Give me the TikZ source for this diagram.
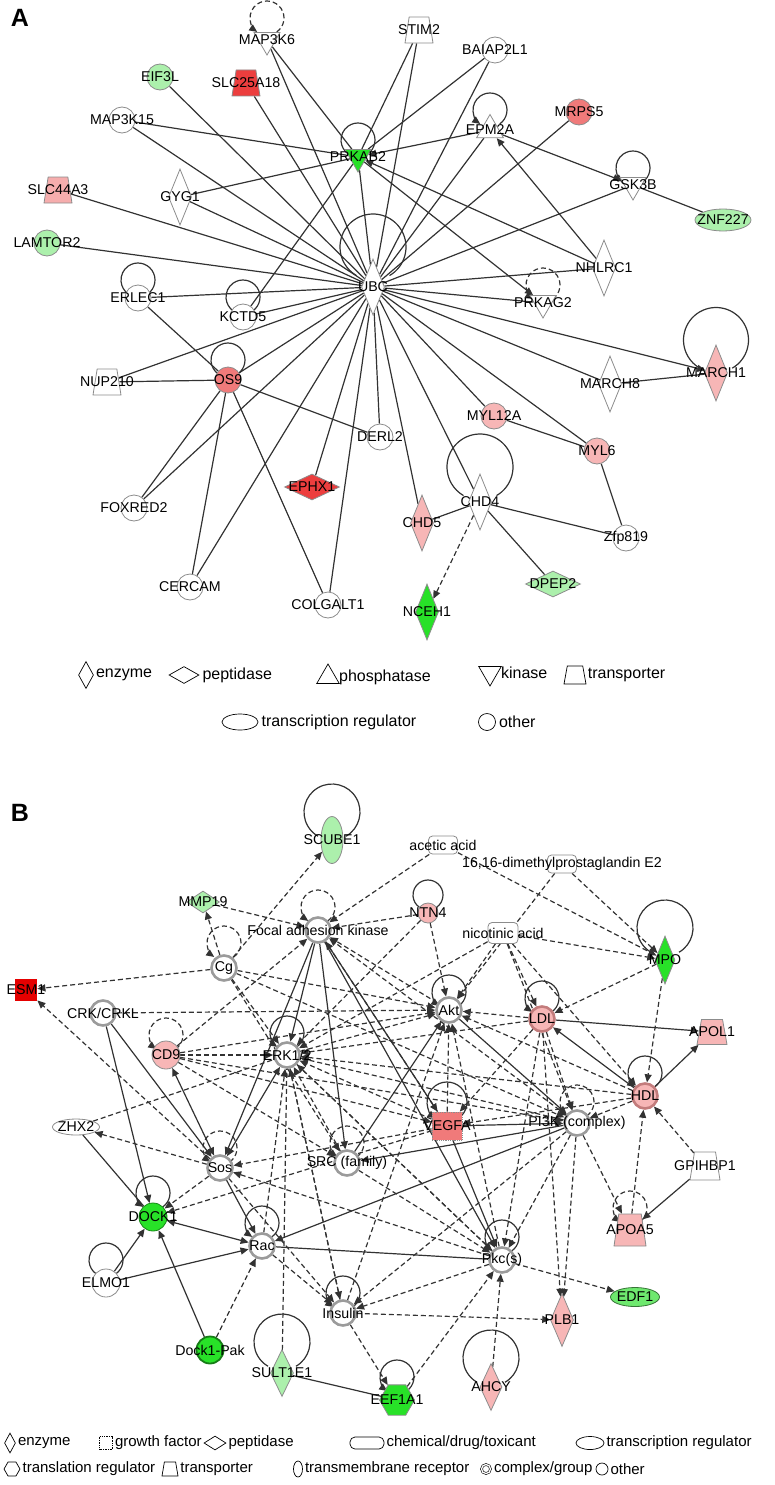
\documentclass[tikz,border=0pt]{standalone}
\usepackage{fontspec}
\setmainfont{Liberation Sans}
\usetikzlibrary{shapes.geometric,arrows.meta,positioning,backgrounds}
\definecolor{nodegray}{RGB}{140,140,140}
\definecolor{edgegray}{RGB}{50,50,50}
\definecolor{cplxgray}{RGB}{155,155,155}
\definecolor{upred}{RGB}{236,62,62}
\definecolor{upmid}{RGB}{240,122,122}
\definecolor{uppink}{RGB}{247,182,182}
\definecolor{dngreen}{RGB}{40,225,40}
\definecolor{dnmid}{RGB}{110,232,110}
\definecolor{dnlight}{RGB}{172,240,172}
\newcommand{\lblfont}{\fontsize{14.2}{15}\selectfont}
\newcommand{\legfont}{\fontsize{16}{17}\selectfont}
\newcommand{\legbfont}{\fontsize{15}{16}\selectfont}
\newcommand{\ttlfont}{\fontsize{25}{25}\selectfont\bfseries}
\begin{document}
\begin{tikzpicture}[x=1pt, y=1pt,
  every label/.style={font=\lblfont, inner sep=0pt},
  gene/.style={draw=nodegray, fill=white, line width=0.8pt, inner sep=0pt},
  other/.style={gene, circle, minimum size=26pt},
  enzyme/.style={gene, diamond, minimum width=23pt, minimum height=56pt},
  peptidase/.style={gene, diamond, minimum width=55pt, minimum height=26pt},
  phosphatase/.style={gene, regular polygon, regular polygon sides=3, minimum size=31pt},
  kinase/.style={gene, regular polygon, regular polygon sides=3, shape border rotate=180, minimum size=30pt},
  transporter/.style={gene, trapezium, inner sep=1pt, trapezium left angle=78, trapezium right angle=78, trapezium stretches=true, minimum width=28pt, minimum height=26pt},
  transreg/.style={gene, ellipse, minimum width=56pt, minimum height=22pt},
  transl/.style={gene, regular polygon, regular polygon sides=6, minimum size=35pt},
  tmrec/.style={gene, ellipse, minimum width=22pt, minimum height=47pt},
  chem/.style={gene, rectangle, rounded corners=4pt, minimum width=29pt, minimum height=18pt},
  growth/.style={gene, rectangle, densely dotted, minimum width=28pt, minimum height=28pt},
  cplx/.style={gene, circle, draw=cplxgray, line width=2.6pt, minimum size=25pt},
  lgs/.style={draw=black, line width=0.7pt},
  lgtext/.style={font=\legfont, inner sep=1pt},
  lgbtext/.style={font=\legbfont, inner sep=1pt},
  sl/.style={draw=edgegray, line width=1.2pt},
  sa/.style={sl, -{Triangle[length=8pt,width=7pt]}},
  sab/.style={sl, {Triangle[length=8pt,width=7pt]}-{Triangle[length=8pt,width=7pt]}},
  dl/.style={sl, dash pattern=on 5pt off 3pt},
  da/.style={dl, -{Triangle[length=8pt,width=7pt]}},
  lp/.style={sl},
  lpa/.style={sa},
  lpd/.style={dl},
  lpda/.style={da}]
\useasboundingbox (0,0) rectangle (775,-1485);

% ---------------- panel A ----------------
\node[font=\ttlfont] (ttla) at (20,-18) {A};

\node[kinase, label=center:MAP3K6] (map3k6) at (267,-40) {};
\node[transporter, label=center:STIM2] (stim2) at (419,-30) {};
\node[other, label=center:BAIAP2L1] (baiap2l1) at (495,-50) {};
\node[other, fill=dnlight, label=center:EIF3L] (eif3l) at (160,-77) {};
\node[transporter, fill=upred, label=center:SLC25A18] (slc25a18) at (246,-83) {};
\node[other, label=center:MAP3K15] (map3k15) at (122,-120) {};
\node[other, fill=upmid, label=center:MRPS5] (mrps5) at (579,-112) {};
\node[phosphatase, label=center:EPM2A] (epm2a) at (490,-130) {};
\node[kinase, fill=dngreen, label=center:PRKAB2] (prkab2) at (358,-157) {};
\node[kinase, label=center:GSK3B] (gsk3b) at (633,-185) {};
\node[transporter, fill=uppink!85!upmid, label=center:SLC44A3] (slc44a3) at (58,-190) {};
\node[enzyme, label=center:GYG1] (gyg1) at (180,-197) {};
\node[transreg, fill=dnlight, label=center:ZNF227] (znf227) at (723,-220) {};
\node[other, fill=dnlight, label=center:LAMTOR2] (lamtor2) at (47,-243) {};
\node[enzyme, label=center:UBC] (ubc) at (373,-287) {};
\node[enzyme, label=center:NHLRC1] (nhlrc1) at (604,-268) {};
\node[other, label=center:ERLEC1] (erlec1) at (138,-298) {};
\node[other, label=center:KCTD5] (kctd5) at (243,-317) {};
\node[kinase, label=center:PRKAG2] (prkag2) at (543,-303) {};
\node[transporter, label=center:NUP210] (nup210) at (107,-382) {};
\node[other, fill=upmid, label=center:OS9] (os9) at (228,-380) {};
\node[enzyme, label=center:MARCH8] (march8) at (610,-384) {};
\node[enzyme, fill=uppink, label=center:MARCH1] (march1) at (716,-373) {};
\node[other, fill=uppink, label=center:MYL12A] (myl12a) at (494,-416) {};
\node[other, label=center:DERL2] (derl2) at (380,-437) {};
\node[other, fill=uppink, label=center:MYL6] (myl6) at (597,-451) {};
\node[peptidase, fill=upred, label=center:EPHX1] (ephx1) at (312,-487) {};
\node[enzyme, label=center:CHD4] (chd4) at (480,-502) {};
\node[enzyme, fill=uppink, label=center:CHD5] (chd5) at (422,-523) {};
\node[other, label=center:Zfp819] (zfp819) at (626,-538) {};
\node[other, label=center:FOXRED2] (foxred2) at (134,-508) {};
\node[other, label=center:CERCAM] (cercam) at (190,-587) {};
\node[peptidase, fill=dnlight, label=center:DPEP2] (dpep2) at (553,-584) {};
\node[other, label=center:COLGALT1] (colgalt1) at (328,-605) {};
\node[enzyme, fill=dngreen, label=center:NCEH1] (nceh1) at (427,-612) {};

\begin{scope}[on background layer]
\draw[lpda] (map3k6) ++(9.75,8.07) arc[start angle=-55, end angle=235, radius=17];
\draw[lp] (prkab2) ++(9.75,3.07) arc[start angle=-55, end angle=235, radius=17];
\draw[lpa] (epm2a) ++(9.75,6.07) arc[start angle=-55, end angle=235, radius=17];
\draw[lpa] (gsk3b) ++(9.75,3.07) arc[start angle=-55, end angle=235, radius=17];
\draw[lpda] (prkag2) ++(9.75,4.07) arc[start angle=-55, end angle=235, radius=17];
\draw[lp] (erlec1) ++(9.75,4.07) arc[start angle=-55, end angle=235, radius=17];
\draw[lp] (kctd5) ++(9.75,6.07) arc[start angle=-55, end angle=235, radius=17];
\draw[lp] (os9) ++(9.75,6.07) arc[start angle=-55, end angle=235, radius=17];
\draw[lp] (ubc) ++(16.5,11.42) arc[start angle=-60, end angle=240, radius=33];
\draw[lp] (march1) ++(16.25,4.85) arc[start angle=-60, end angle=240, radius=32.5];
\draw[lp] (chd4) ++(16.5,6.42) arc[start angle=-60, end angle=240, radius=33];

\draw[sl] (map3k6) -- (ubc);
\draw[sl] (map3k6) -- (prkab2);
\draw[sl] (eif3l) -- (ubc);
\draw[sl] (slc25a18) -- (ubc);
\draw[sl] (map3k15) -- (prkab2);
\draw[sl] (map3k15) -- (ubc);
\draw[sl] (gyg1) -- (prkab2);
\draw[sl] (gyg1) -- (ubc);
\draw[sl] (slc44a3) -- (ubc);
\draw[sl] (lamtor2) -- (ubc);
\draw[sl] (erlec1) -- (ubc);
\draw[sl] (erlec1) -- (os9);
\draw[sl] (kctd5) -- (prkab2);
\draw[sl] (kctd5) -- (ubc);
\draw[sl] (prkab2) -- (ubc);
\draw[sl] (stim2) -- (prkab2);
\draw[sl] (stim2) -- (ubc);
\draw[sl] (baiap2l1) -- (prkab2);
\draw[sl] (baiap2l1) -- (ubc);
\draw[sa] (epm2a) -- (prkab2);
\draw[sl] (epm2a) -- (ubc);
\draw[sa] (epm2a) -- (gsk3b);
\draw[sa] (nhlrc1) -- (epm2a);
\draw[sa] (nhlrc1) -- (prkab2);
\draw[sa] (prkab2) -- (prkag2);
\draw[sl] (mrps5) -- (ubc);
\draw[sl] (gsk3b) -- (ubc);
\draw[sl] (gsk3b) -- (znf227);
\draw[sl] (nhlrc1) -- (ubc);
\draw[sl] (prkag2) -- (ubc);
\draw[sa] (ubc) -- (march1);
\draw[sl] (ubc) -- (march8);
\draw[sl] (march8) -- (march1);
\draw[sl] (ubc) -- (myl12a);
\draw[sl] (ubc) -- (myl6);
\draw[sl] (ubc) -- (chd4);
\draw[sl] (ubc) -- (chd5);
\draw[sl] (ubc) -- (derl2);
\draw[sl] (ubc) -- (colgalt1);
\draw[sl] (ubc) -- (ephx1);
\draw[sl] (ubc) -- (cercam);
\draw[sl] (ubc) -- (foxred2);
\draw[sl] (ubc) -- (nup210);
\draw[sl] (ubc) -- (os9);
\draw[sl] (os9) -- (nup210);
\draw[sl] (os9) -- (derl2);
\draw[sl] (os9) -- (foxred2);
\draw[sl] (os9) -- (cercam);
\draw[sl] (os9) -- (colgalt1);
\draw[sl] (myl12a) -- (myl6);
\draw[sl] (myl6) -- (zfp819);
\draw[sl] (chd4) -- (chd5);
\draw[sl] (chd4) -- (zfp819);
\draw[sl] (chd4) -- (dpep2);
\draw[da] (chd4) -- (nceh1);
\end{scope}

% legend A
\node[enzyme, lgs, minimum width=15pt, minimum height=27pt] (lgaenz) at (86,-675) {};
\node[lgtext, right=1pt of lgaenz] (lgaenzt) {enzyme};
\node[peptidase, lgs, minimum width=30pt, minimum height=17pt] (lgapep) at (184,-675) {};
\node[lgtext, right=2pt of lgapep] (lgapept) {peptidase};
\node[phosphatase, lgs, minimum size=26pt] (lgapho) at (328,-677) {};
\node[lgtext, right=2pt of lgapho] (lgaphot) {phosphatase};
\node[kinase, lgs, minimum size=26pt] (lgakin) at (490,-673) {};
\node[lgtext, right=2pt of lgakin] (lgakint) {kinase};
\node[transporter, lgs, minimum width=22pt, minimum height=18pt] (lgatra) at (575,-675) {};
\node[lgtext, right=2pt of lgatra] (lgatrat) {transporter};
\node[transreg, lgs, minimum width=36pt, minimum height=16pt] (lgatrr) at (240,-722) {};
\node[lgtext, right=2pt of lgatrr] (lgatrrt) {transcription regulator};
\node[other, lgs, minimum size=17pt] (lgaoth) at (487,-722) {};
\node[lgtext, right=2pt of lgaoth] (lgaotht) {other};

% ---------------- panel B ----------------
\node[font=\ttlfont] (ttlb) at (20,-813) {B};

\node[tmrec, fill=dnlight, label=center:SCUBE1] (scube1) at (332,-840) {};
\node[chem, label={center:{acetic acid}}] (acetic) at (443,-845) {};
\node[chem, label={center:{16,16-dimethylprostaglandin E2}}] (dmpge2) at (562,-864) {};
\node[peptidase, fill=dnlight, minimum width=33pt, minimum height=22pt, label=center:MMP19] (mmp19) at (203,-902) {};
\node[other, fill=uppink, minimum size=20pt, label=center:NTN4] (ntn4) at (428,-913) {};
\node[cplx, label={center:{Focal adhesion kinase}}] (fak) at (318,-930) {};
\node[chem, minimum width=30pt, minimum height=21pt, label={center:{nicotinic acid}}] (nicotinic) at (503,-933) {};
\node[enzyme, fill=dngreen, minimum width=20pt, minimum height=48pt, label=center:MPO] (mpo) at (665,-960) {};
\node[cplx, label=center:Cg] (cg) at (224,-968) {};
\node[growth, fill=red!90!black, draw=none, minimum width=22pt, minimum height=22pt, label=center:ESM1] (esm1) at (26,-990) {};
\node[cplx, label=center:Akt] (akt) at (449,-1010) {};
\node[cplx, fill=uppink, draw=upmid!60!gray, label=center:LDL] (ldl) at (542,-1019) {};
\node[cplx, label=center:CRK/CRKL] (crk) at (103,-1013) {};
\node[transporter, fill=uppink, minimum width=30pt, minimum height=25pt, label=center:APOL1] (apol1) at (712,-1032) {};
\node[other, fill=uppink, minimum size=28pt, label=center:CD9] (cd9) at (166,-1055) {};
\node[cplx, label=center:ERK1/2] (erk) at (287,-1055) {};
\node[cplx, fill=uppink, draw=upmid!60!gray, label=center:HDL] (hdl) at (645,-1096) {};
\node[growth, fill=upmid, minimum width=30pt, label=center:VEGFA] (vegfa) at (447,-1126) {};
\node[cplx, label={center:{PI3K (complex)}}] (pi3k) at (577,-1123) {};
\node[transreg, minimum width=47pt, minimum height=16pt, label=center:ZHX2] (zhx2) at (76,-1127) {};
\node[cplx, label={center:{SRC (family)}}] (src) at (347,-1163) {};
\node[cplx, label=center:Sos] (sos) at (220,-1168) {};
\node[transporter, minimum width=30pt, minimum height=28pt, label=center:GPIHBP1] (gpihbp1) at (705,-1166) {};
\node[other, fill=dngreen, draw=dngreen!60!black, minimum size=28pt, label=center:DOCK1] (dock1) at (153,-1217) {};
\node[transporter, fill=uppink, minimum width=32pt, minimum height=32pt, label=center:APOA5] (apoa5) at (630,-1230) {};
\node[cplx, label=center:Rac] (rac) at (262,-1246) {};
\node[cplx, label={center:{Pkc(s)}}] (pkc) at (502,-1260) {};
\node[other, minimum size=28pt, label=center:ELMO1] (elmo1) at (106,-1283) {};
\node[transreg, fill=dnmid, draw=dnmid!50!black, minimum width=49pt, minimum height=19pt, label=center:EDF1] (edf1) at (635,-1297) {};
\node[cplx, label=center:Insulin] (insulin) at (343,-1313) {};
\node[enzyme, fill=uppink, minimum width=23pt, minimum height=53pt, label=center:PLB1] (plb1) at (562,-1320) {};
\node[cplx, fill=dngreen, draw=dngreen!55!black, line width=1.8pt, minimum size=27pt, label=center:Dock1-Pak] (dock1pak) at (210,-1350) {};
\node[enzyme, fill=dnlight, minimum width=23pt, minimum height=47pt, label=center:SULT1E1] (sult1e1) at (282,-1373) {};
\node[enzyme, fill=uppink, minimum width=22pt, minimum height=47pt, label=center:AHCY] (ahcy) at (491,-1387) {};
\node[transl, fill=dngreen, label=center:EEF1A1] (eef1a1) at (397,-1400) {};

\begin{scope}[on background layer]
\draw[lp] (scube1) ++(14,3.75) arc[start angle=-60, end angle=240, radius=28];
\draw[lp] (mpo) ++(14,7.75) arc[start angle=-60, end angle=240, radius=28];
\draw[lp] (sult1e1) ++(14,6.75) arc[start angle=-60, end angle=240, radius=28];
\draw[lp] (ahcy) ++(14,4.75) arc[start angle=-60, end angle=240, radius=28];
\draw[lpda] (fak) ++(9.75,9.07) arc[start angle=-55, end angle=235, radius=17];
\draw[lpda] (cg) ++(9.75,11.07) arc[start angle=-55, end angle=235, radius=17];
\draw[lp] (ntn4) ++(8.6,5.71) arc[start angle=-55, end angle=235, radius=15];
\draw[lpa] (akt) ++(9.75,4.07) arc[start angle=-55, end angle=235, radius=17];
\draw[lpa] (ldl) ++(9.75,7.07) arc[start angle=-55, end angle=235, radius=17];
\draw[lpda] (cd9) ++(9.75,6.07) arc[start angle=-55, end angle=235, radius=17];
\draw[lpa] (erk) ++(9.75,8.07) arc[start angle=-55, end angle=235, radius=17];
\draw[lpa] (hdl) ++(9.75,9.07) arc[start angle=-55, end angle=235, radius=17];
\draw[lpa] (vegfa) ++(11.47,7.62) arc[start angle=-55, end angle=235, radius=20];
\draw[lpda] (pi3k) ++(9.75,7.07) arc[start angle=-55, end angle=235, radius=17];
\draw[lpda] (sos) ++(9.75,6.07) arc[start angle=-55, end angle=235, radius=17];
\draw[lpda] (src) ++(9.75,6.07) arc[start angle=-55, end angle=235, radius=17];
\draw[lpa] (dock1) ++(9.75,10.07) arc[start angle=-55, end angle=235, radius=17];
\draw[lpda] (apoa5) ++(9.75,8.07) arc[start angle=-55, end angle=235, radius=17];
\draw[lpa] (rac) ++(9.75,9.07) arc[start angle=-55, end angle=235, radius=17];
\draw[lpa] (pkc) ++(9.75,9.07) arc[start angle=-55, end angle=235, radius=17];
\draw[lp] (elmo1) ++(9.75,9.07) arc[start angle=-55, end angle=235, radius=17];
\draw[lpa] (insulin) ++(9.75,6.07) arc[start angle=-55, end angle=235, radius=17];
\draw[lpa] (eef1a1) ++(9.75,9.07) arc[start angle=-55, end angle=235, radius=17];

\draw[da] (cg) -- (scube1);
\draw[da] (cg) -- (mmp19);
\draw[da] (mmp19) -- (fak);
\draw[da] (cg) -- (esm1);
\draw[da] (cg) -- (akt);
\draw[da] (cg) -- (erk);
\draw[da] (cg) -- (pi3k);
\draw[da] (cg) -- (src);
\draw[da] (crk) -- (akt);
\draw[sa] (crk) -- (dock1);
\draw[sa] (crk) -- (sos);
\draw[da] (acetic) -- (fak);
\draw[da] (acetic) -- (mpo);
\draw[da] (dmpge2) -- (mpo);
\draw[da] (dmpge2) -- (akt);
\draw[da] (ntn4) -- (fak);
\draw[da] (ntn4) -- (akt);
\draw[da] (ntn4) -- (erk);
\draw[da] (nicotinic) -- (mpo);
\draw[da] (nicotinic) -- (akt);
\draw[da] (nicotinic) -- (ldl);
\draw[da] (nicotinic) -- (hdl);
\draw[da] (nicotinic) -- (erk);
\draw[da] (nicotinic) -- (pi3k);
\draw[da] (mpo) -- (ldl);
\draw[da] (mpo) -- (hdl);
\draw[sa] (ldl) -- (apol1);
\draw[da] (ldl) -- (akt);
\draw[da] (ldl) -- (erk);
\draw[da] (ldl) -- (vegfa);
\draw[da] (ldl) -- (pi3k);
\draw[da] (ldl) -- (pkc);
\draw[da] (ldl) -- (plb1);
\draw[sa] (hdl) -- (apol1);
\draw[sa] (hdl) -- (ldl);
\draw[da] (hdl) -- (akt);
\draw[da] (hdl) -- (erk);
\draw[da] (hdl) -- (vegfa);
\draw[da] (hdl) -- (pi3k);
\draw[da] (gpihbp1) -- (hdl);
\draw[sa] (gpihbp1) -- (apoa5);
\draw[da] (apoa5) -- (hdl);
\draw[da] (pi3k) -- (apoa5);
\draw[sa] (fak) -- (erk);
\draw[sa] (fak) -- (sos);
\draw[sa] (fak) -- (src);
\draw[sa] (fak) -- (vegfa);
\draw[sa] (fak) -- (pkc);
\draw[da] (vegfa) -- (fak);
\draw[da] (akt) -- (fak);
\draw[da] (pi3k) -- (fak);
\draw[da] (cd9) -- (fak);
\draw[da] (vegfa) -- (akt);
\draw[sa] (akt) -- (pi3k);
\draw[da] (erk) -- (akt);
\draw[da] (pkc) -- (akt);
\draw[sa] (src) -- (akt);
\draw[da] (insulin) -- (akt);
\draw[da] (cd9) -- (akt);
\draw[da] (cd9) -- (erk);
\draw[da] (vegfa) -- (erk);
\draw[da] (pi3k) -- (erk);
\draw[da] (pkc) -- (erk);
\draw[da] (insulin) -- (erk);
\draw[dl] (sult1e1) -- (erk);
\draw[da] (rac) -- (erk);
\draw[da] (src) -- (erk);
\draw[dl] (zhx2) -- (erk);
\draw[sab] (sos) -- (erk);
\draw[sa] (vegfa) -- (pi3k);
\draw[sa] (vegfa) -- (pkc);
\draw[da] (cd9) -- (vegfa);
\draw[da] (vegfa) -- (sos);
\draw[da] (vegfa) -- (dock1);
\draw[da] (pi3k) -- (pkc);
\draw[da] (pi3k) -- (insulin);
\draw[da] (pi3k) -- (plb1);
\draw[sa] (pi3k) -- (rac);
\draw[sa] (pi3k) -- (src);
\draw[da] (cd9) -- (pi3k);
\draw[da] (cd9) -- (src);
\draw[da] (pkc) -- (edf1);
\draw[sl] (rac) -- (pkc);
\draw[da] (ahcy) -- (pkc);
\draw[da] (eef1a1) -- (pkc);
\draw[da] (pkc) -- (sos);
\draw[da] (src) -- (pkc);
\draw[da] (erk) -- (pkc);
\draw[da] (insulin) -- (plb1);
\draw[da] (insulin) -- (eef1a1);
\draw[da] (rac) -- (insulin);
\draw[da] (pkc) -- (insulin);
\draw[da] (erk) -- (insulin);
\draw[da] (sos) -- (insulin);
\draw[da] (sos) -- (zhx2);
\draw[da] (sos) -- (dock1);
\draw[sa] (sos) -- (rac);
\draw[sab] (cd9) -- (sos);
\draw[da] (sos) -- (esm1);
\draw[sab] (dock1) -- (rac);
\draw[sa] (elmo1) -- (dock1);
\draw[sa] (elmo1) -- (rac);
\draw[sa] (dock1pak) -- (dock1);
\draw[da] (dock1pak) -- (rac);
\draw[sl] (zhx2) -- (dock1);
\draw[sl] (sult1e1) -- (eef1a1);
\end{scope}

% legend B
\node[enzyme, lgs, minimum width=11pt, minimum height=20pt] (lgbenz) at (10,-1443) {};
\node[lgbtext, right=1pt of lgbenz] (lgbenzt) {enzyme};
\node[gene, lgs, densely dotted, minimum size=13pt] (lgbgro) at (106,-1443) {};
\node[lgbtext, right=1pt of lgbgro] (lgbgrot) {growth factor};
\node[peptidase, lgs, minimum width=22pt, minimum height=14pt] (lgbpep) at (215,-1443) {};
\node[lgbtext, right=1pt of lgbpep] (lgbpept) {peptidase};
\node[chem, lgs, rounded corners=5pt, minimum width=34pt, minimum height=12pt] (lgbche) at (367,-1443) {};
\node[lgbtext, right=1pt of lgbche] (lgbchet) {chemical/drug/toxicant};
\node[transreg, lgs, minimum width=28pt, minimum height=13pt] (lgbtrr) at (590,-1443) {};
\node[lgbtext, right=1pt of lgbtrr] (lgbtrrt) {transcription regulator};
\node[transl, lgs, minimum size=16pt] (lgbtrl) at (12,-1469) {};
\node[lgbtext, right=1pt of lgbtrl] (lgbtrlt) {translation regulator};
\node[transporter, lgs, minimum width=16pt, minimum height=14pt] (lgbtra) at (170,-1469) {};
\node[lgbtext, right=2pt of lgbtra] (lgbtrat) {transporter};
\node[tmrec, lgs, minimum width=9pt, minimum height=16pt] (lgbtmr) at (298,-1469) {};
\node[lgbtext, right=1pt of lgbtmr] (lgbtmrt) {transmembrane receptor};
\node[circle, draw=black, double, double distance=1.3pt, line width=0.6pt, inner sep=0pt, minimum size=9pt] (lgbcpx) at (486,-1469) {};
\node[lgbtext, right=2pt of lgbcpx] (lgbcpxt) {complex/group};
\node[other, lgs, minimum size=12pt] (lgboth) at (602,-1469) {};
\node[lgbtext, right=1pt of lgboth] (lgbotht) {other};
\end{tikzpicture}
\end{document}
